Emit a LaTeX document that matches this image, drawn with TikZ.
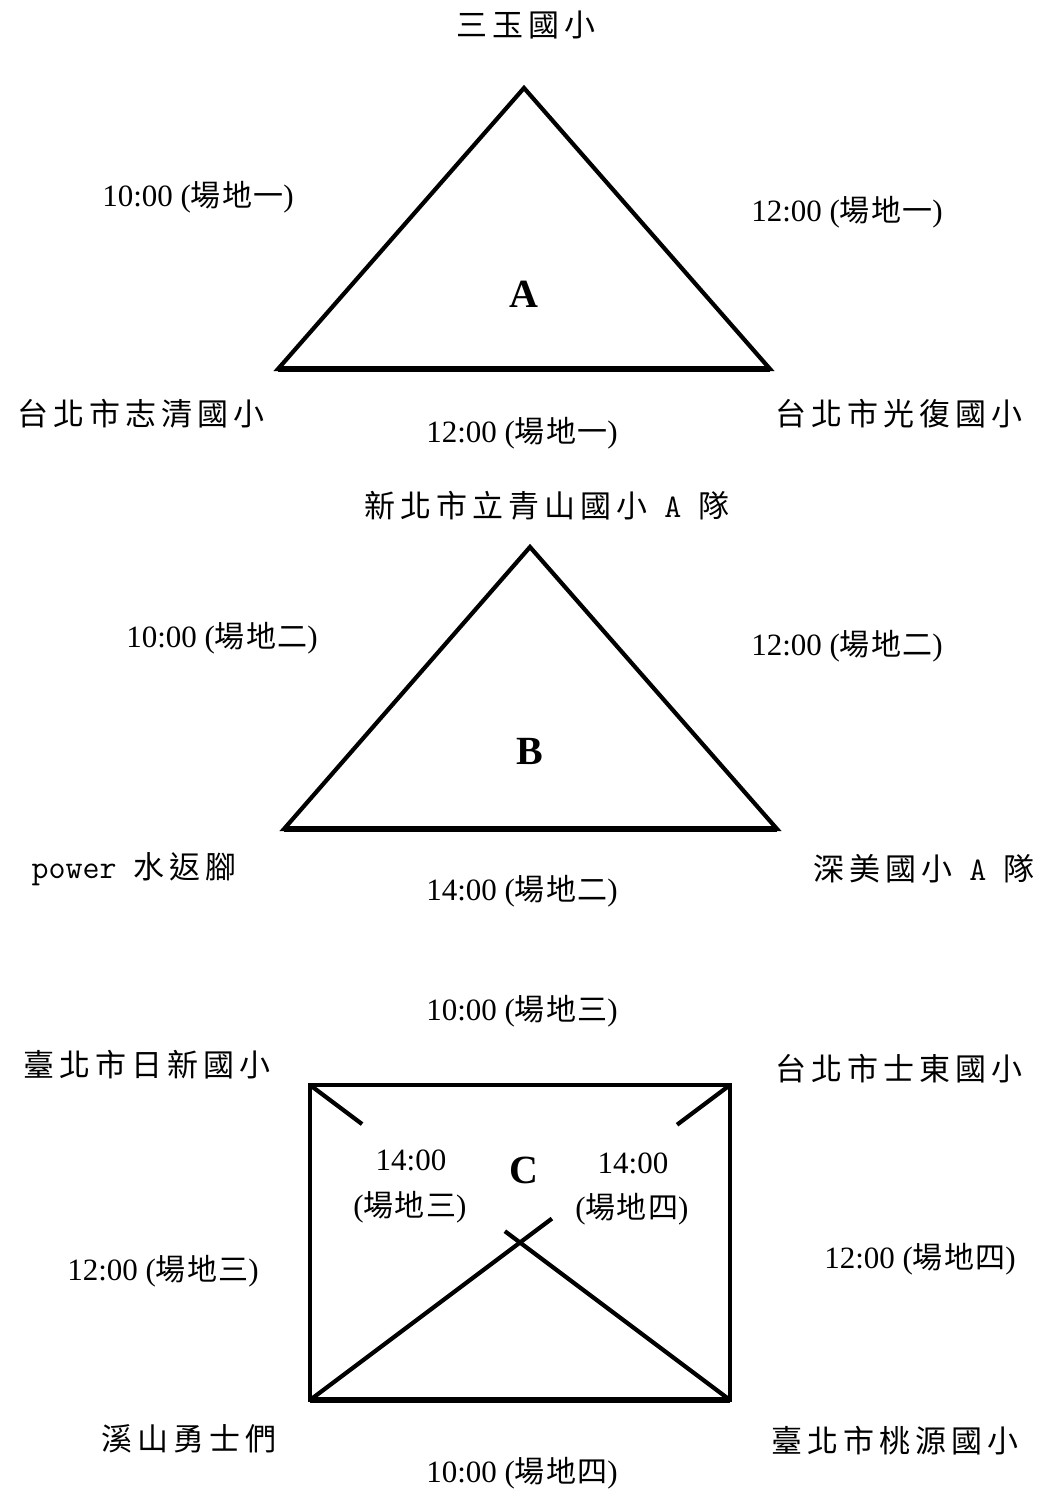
\documentclass[tikz,border=0pt]{standalone}
\usepackage{fontspec}
\setmainfont{Liberation Serif}
\newfontfamily\cjk[LetterSpace=16]{Noto Sans CJK TC}
\newfontfamily\cjks[LetterSpace=4]{Noto Sans CJK TC}
\usetikzlibrary{calc, positioning}

\newcommand\venue[1]{({\fontsize{30}{34}\cjks #1})}
\newcommand\lat[1]{{\fontsize{33}{34}\ttfamily #1}}

\begin{document}
\begin{tikzpicture}[
    x=1pt, y=-1pt,
    team/.style={inner sep=0pt, anchor=base, font=\fontsize{31}{36}\cjk},
    slot/.style={inner sep=0pt, anchor=base, font=\fontsize{31}{36}\selectfont},
    pool/.style={inner sep=0pt, anchor=base, font=\fontsize{40}{40}\selectfont\bfseries},
    side/.style={line width=4.2pt, line join=miter},
    base/.style={line width=5.5pt}
]
\useasboundingbox (0,0) rectangle (1037,1490);

% group A
\coordinate (a1) at (524,88);
\coordinate (a2) at (278,369);
\coordinate (a3) at (770,369);
\draw[side] (a1) -- (a2) -- (a3) -- cycle;
\draw[base] (a2) -- (a3);

\node[team] (ta) at (526,37) {三玉國小};
\node[team] (tl) at (141,425) {台北市志清國小};
\node[team] (tr) at (899,425) {台北市光復國小};
\node[slot] (sal) at (198,206) {10:00 \venue{場地一}};
\node[slot] (sar) at (847,222) {12:00 \venue{場地一}};
\node[slot] (sab) at (522,442) {12:00 \venue{場地一}};
\node[pool] (pa) at (524,307) {A};

% group B
\coordinate (b1) at (530,547);
\coordinate (b2) at (284,829);
\coordinate (b3) at (777,829);
\draw[side] (b1) -- (b2) -- (b3) -- cycle;
\draw[base] (b2) -- (b3);

\node[team] (tb) at (547,517) {新北市立青山國小\lat{ A }隊};
\node[team] (bl) at (134,878) {\lat{power }水返腳};
\node[team] (br) at (924,880) {深美國小\lat{ A }隊};
\node[slot] (sbl) at (222,647) {10:00 \venue{場地二}};
\node[slot] (sbr) at (847,655) {12:00 \venue{場地二}};
\node[slot] (sbb) at (522,900) {14:00 \venue{場地二}};
\node[pool] (pb) at (530,764) {B};

% group C
\coordinate (c1) at (310,1085);
\coordinate (c2) at (730,1085);
\coordinate (c3) at (730,1400);
\coordinate (c4) at (310,1400);
\draw[side] (c1) -- (c2) -- (c3) -- (c4) -- cycle;
\draw[base] (c4) -- (c3);
\draw[side] (c1) -- ($(c1)!0.124!(c3)$);
\draw[side] ($(c1)!0.464!(c3)$) -- (c3);
\draw[side] (c2) -- ($(c2)!0.126!(c4)$);
\draw[side] ($(c2)!0.424!(c4)$) -- (c4);

\node[team] (cl) at (147,1076) {臺北市日新國小};
\node[team] (cr) at (899,1080) {台北市士東國小};
\node[team] (dl) at (189,1450) {溪山勇士們};
\node[team] (dr) at (895,1452) {臺北市桃源國小};
\node[slot] (sct) at (522,1020) {10:00 \venue{場地三}};
\node[slot] (scl) at (163,1280) {12:00 \venue{場地三}};
\node[slot] (scr) at (920,1268) {12:00 \venue{場地四}};
\node[slot] (scb) at (522,1482) {10:00 \venue{場地四}};
\node[slot] (sx1) at (411,1170) {14:00};
\node[slot] (sx2) at (410,1216) {\venue{場地三}};
\node[slot] (sy1) at (633,1173) {14:00};
\node[slot] (sy2) at (632,1218) {\venue{場地四}};
\node[pool] (pc) at (524,1183) {C};

\end{tikzpicture}
\end{document}
